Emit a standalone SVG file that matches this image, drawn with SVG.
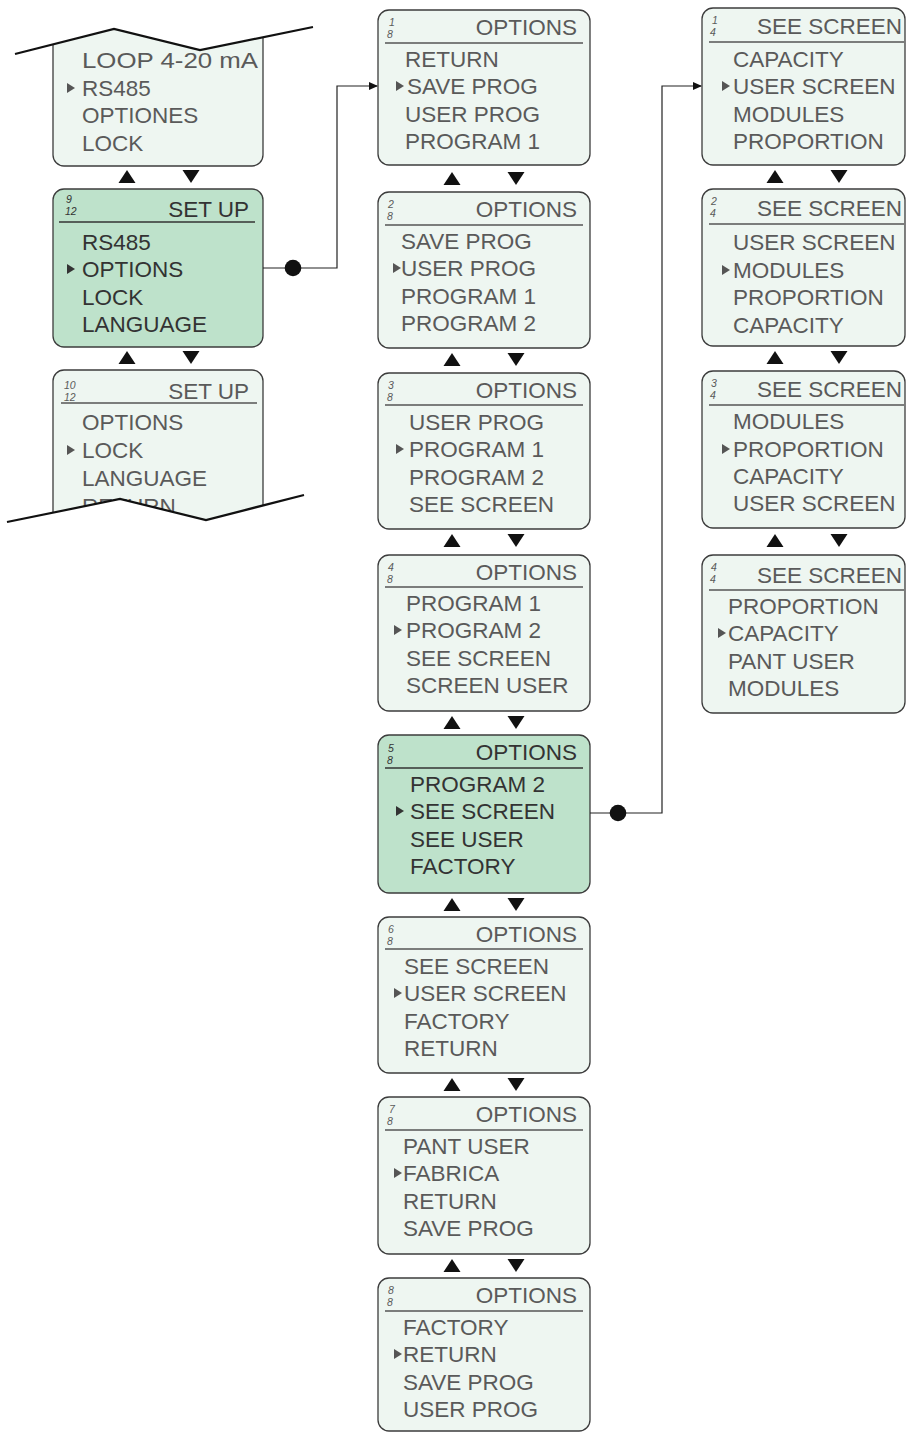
<svg xmlns="http://www.w3.org/2000/svg" xmlns:xlink="http://www.w3.org/1999/xlink" width="906" height="1432" viewBox="0 0 906 1432">
  <style>
    .scr { fill: #eef6f1; stroke: #3c3c3c; stroke-width: 1.3; }
    .scr.on { fill: #bee2cb; }
    .rule { stroke: #555; stroke-width: 1.3; }
    .hot .rule { stroke: #333; }
    text { font-family: "Liberation Sans", Arial, sans-serif; font-size: 22.5px; letter-spacing: 0; fill: #5a5a5a; }
    .hot text { fill: #333; }
    .ttl { text-anchor: end; }
    .frac { font-family: "Liberation Sans", Arial, sans-serif; font-size: 10.5px; font-style: italic; letter-spacing: 0; }
    .ptr { fill: #555; }
    .hot .ptr { fill: #333; }
    .nav { fill: #111; }
    .wire { fill: none; stroke: #222; stroke-width: 1.2; }
    .dot { fill: #111; }
    .cut { fill: none; stroke: #111; stroke-width: 2.2; stroke-linejoin: miter; }
  </style>
  <defs>
    <path id="up" d="M-8.5,13 L0,0 L8.5,13 Z"/>
    <path id="dn" d="M-8.5,0 L8.5,0 L0,13 Z"/>
    <path id="pt" d="M0,-5 L8,0 L0,5 Z"/>
    <marker id="ah" markerWidth="9" markerHeight="8" refX="8" refY="4" orient="auto" markerUnits="userSpaceOnUse">
      <path d="M0,0 L9,4 L0,8 Z" fill="#111"/>
    </marker>
  </defs>

  <!-- SET UP column -->
  <g id="setup-8">
    <rect class="scr" x="53" y="10" width="210" height="156" rx="11"/>
    <text x="82" y="68" textLength="176" lengthAdjust="spacingAndGlyphs">LOOP 4-20 mA</text>
    <use href="#pt" class="ptr" x="67" y="88"/>
    <text x="82" y="96">RS485</text>
    <text x="82" y="123">OPTIONES</text>
    <text x="82" y="151">LOCK</text>
  </g>
  <g id="setup-nav-1">
    <use href="#up" class="nav" x="127" y="170"/>
    <use href="#dn" class="nav" x="191" y="170"/>
  </g>
  <g id="setup-9" class="hot">
    <rect class="scr on" x="53" y="189" width="210" height="158" rx="11"/>
    <text class="frac" x="66" y="203">9</text>
    <text class="frac" x="65" y="215">12</text>
    <text class="ttl" x="249" y="217">SET UP</text>
    <line class="rule" x1="59" y1="222" x2="255" y2="222"/>
    <text x="82" y="250">RS485</text>
    <use href="#pt" class="ptr" x="67" y="269"/>
    <text x="82" y="277">OPTIONS</text>
    <text x="82" y="305">LOCK</text>
    <text x="82" y="332">LANGUAGE</text>
  </g>
  <g id="setup-nav-2">
    <use href="#up" class="nav" x="127" y="351"/>
    <use href="#dn" class="nav" x="191" y="351"/>
  </g>
  <g id="setup-10">
    <rect class="scr" x="53" y="370" width="210" height="170" rx="11"/>
    <text class="frac" x="64" y="389">10</text>
    <text class="frac" x="64" y="401">12</text>
    <text class="ttl" x="249" y="399">SET UP</text>
    <line class="rule" x1="61" y1="403" x2="257" y2="403"/>
    <text x="82" y="430">OPTIONS</text>
    <use href="#pt" class="ptr" x="67" y="450"/>
    <text x="82" y="458">LOCK</text>
    <text x="82" y="486">LANGUAGE</text>
    <text x="82" y="514">RETURN</text>
  </g>
  <!-- torn edges of the scrolled list -->
  <g id="tear">
    <polygon fill="#fff" points="0,0 340,0 340,22 313,27 200,50 114,29 15,54 0,58"/>
    <polyline class="cut" points="15,54 114,29 200,50 313,27"/>
    <polygon fill="#fff" points="0,522 7,522 120,499 206,520 304,495 340,495 340,560 0,560"/>
    <polyline class="cut" points="7,522 120,499 206,520 304,495"/>
  </g>

  <!-- OPTIONS column -->
  <g id="opt-1">
    <rect class="scr" x="378" y="10" width="212" height="155" rx="11"/>
    <text class="frac" x="389" y="26">1</text>
    <text class="frac" x="387" y="38">8</text>
    <text class="ttl" x="577" y="35">OPTIONS</text>
    <line class="rule" x1="385" y1="43" x2="583" y2="43"/>
    <text x="405" y="67">RETURN</text>
    <use href="#pt" class="ptr" x="396" y="86"/>
    <text x="407" y="94">SAVE PROG</text>
    <text x="405" y="122">USER PROG</text>
    <text x="405" y="149">PROGRAM 1</text>
  </g>
  <g id="opt-nav-1">
    <use href="#up" class="nav" x="452" y="172"/>
    <use href="#dn" class="nav" x="516" y="172"/>
  </g>
  <g id="opt-2">
    <rect class="scr" x="378" y="192" width="212" height="156" rx="11"/>
    <text class="frac" x="388" y="208">2</text>
    <text class="frac" x="387" y="220">8</text>
    <text class="ttl" x="577" y="217">OPTIONS</text>
    <line class="rule" x1="385" y1="225" x2="583" y2="225"/>
    <text x="401" y="249">SAVE PROG</text>
    <use href="#pt" class="ptr" x="393" y="268"/>
    <text x="401" y="276">USER PROG</text>
    <text x="401" y="304">PROGRAM 1</text>
    <text x="401" y="331">PROGRAM 2</text>
  </g>
  <g id="opt-nav-2">
    <use href="#up" class="nav" x="452" y="353"/>
    <use href="#dn" class="nav" x="516" y="353"/>
  </g>
  <g id="opt-3">
    <rect class="scr" x="378" y="373" width="212" height="156" rx="11"/>
    <text class="frac" x="388" y="389">3</text>
    <text class="frac" x="387" y="401">8</text>
    <text class="ttl" x="577" y="398">OPTIONS</text>
    <line class="rule" x1="385" y1="405" x2="583" y2="405"/>
    <text x="409" y="430">USER PROG</text>
    <use href="#pt" class="ptr" x="396" y="449"/>
    <text x="409" y="457">PROGRAM 1</text>
    <text x="409" y="485">PROGRAM 2</text>
    <text x="409" y="512">SEE SCREEN</text>
  </g>
  <g id="opt-nav-3">
    <use href="#up" class="nav" x="452" y="534"/>
    <use href="#dn" class="nav" x="516" y="534"/>
  </g>
  <g id="opt-4">
    <rect class="scr" x="378" y="555" width="212" height="156" rx="11"/>
    <text class="frac" x="388" y="571">4</text>
    <text class="frac" x="387" y="583">8</text>
    <text class="ttl" x="577" y="580">OPTIONS</text>
    <line class="rule" x1="385" y1="587" x2="583" y2="587"/>
    <text x="406" y="611">PROGRAM 1</text>
    <use href="#pt" class="ptr" x="394" y="630"/>
    <text x="406" y="638">PROGRAM 2</text>
    <text x="406" y="666">SEE SCREEN</text>
    <text x="406" y="693">SCREEN USER</text>
  </g>
  <g id="opt-nav-4">
    <use href="#up" class="nav" x="452" y="716"/>
    <use href="#dn" class="nav" x="516" y="716"/>
  </g>
  <g id="opt-5" class="hot">
    <rect class="scr on" x="378" y="735" width="212" height="158" rx="11"/>
    <text class="frac" x="388" y="752">5</text>
    <text class="frac" x="387" y="764">8</text>
    <text class="ttl" x="577" y="760">OPTIONS</text>
    <line class="rule" x1="385" y1="768" x2="583" y2="768"/>
    <text x="410" y="792">PROGRAM 2</text>
    <use href="#pt" class="ptr" x="396" y="811"/>
    <text x="410" y="819">SEE SCREEN</text>
    <text x="410" y="847">SEE USER</text>
    <text x="410" y="874">FACTORY</text>
  </g>
  <g id="opt-nav-5">
    <use href="#up" class="nav" x="452" y="898"/>
    <use href="#dn" class="nav" x="516" y="898"/>
  </g>
  <g id="opt-6">
    <rect class="scr" x="378" y="917" width="212" height="156" rx="11"/>
    <text class="frac" x="388" y="933">6</text>
    <text class="frac" x="387" y="945">8</text>
    <text class="ttl" x="577" y="942">OPTIONS</text>
    <line class="rule" x1="385" y1="949" x2="583" y2="949"/>
    <text x="404" y="974">SEE SCREEN</text>
    <use href="#pt" class="ptr" x="394" y="993"/>
    <text x="404" y="1001">USER SCREEN</text>
    <text x="404" y="1029">FACTORY</text>
    <text x="404" y="1056">RETURN</text>
  </g>
  <g id="opt-nav-6">
    <use href="#up" class="nav" x="452" y="1078"/>
    <use href="#dn" class="nav" x="516" y="1078"/>
  </g>
  <g id="opt-7">
    <rect class="scr" x="378" y="1097" width="212" height="157" rx="11"/>
    <text class="frac" x="389" y="1113">7</text>
    <text class="frac" x="387" y="1125">8</text>
    <text class="ttl" x="577" y="1122">OPTIONS</text>
    <line class="rule" x1="385" y1="1130" x2="583" y2="1130"/>
    <text x="403" y="1154">PANT USER</text>
    <use href="#pt" class="ptr" x="394" y="1173"/>
    <text x="403" y="1181">FABRICA</text>
    <text x="403" y="1209">RETURN</text>
    <text x="403" y="1236">SAVE PROG</text>
  </g>
  <g id="opt-nav-7">
    <use href="#up" class="nav" x="452" y="1259"/>
    <use href="#dn" class="nav" x="516" y="1259"/>
  </g>
  <g id="opt-8">
    <rect class="scr" x="378" y="1278" width="212" height="153" rx="11"/>
    <text class="frac" x="388" y="1294">8</text>
    <text class="frac" x="387" y="1306">8</text>
    <text class="ttl" x="577" y="1303">OPTIONS</text>
    <line class="rule" x1="385" y1="1311" x2="583" y2="1311"/>
    <text x="403" y="1335">FACTORY</text>
    <use href="#pt" class="ptr" x="394" y="1354"/>
    <text x="403" y="1362">RETURN</text>
    <text x="403" y="1390">SAVE PROG</text>
    <text x="403" y="1417">USER PROG</text>
  </g>

  <!-- SEE SCREEN column -->
  <g id="see-1">
    <rect class="scr" x="702" y="8" width="203" height="157" rx="11"/>
    <text class="frac" x="712" y="24">1</text>
    <text class="frac" x="710" y="36">4</text>
    <text class="ttl" x="902" y="34">SEE SCREEN</text>
    <line class="rule" x1="709" y1="42" x2="904" y2="42"/>
    <text x="733" y="67">CAPACITY</text>
    <use href="#pt" class="ptr" x="722" y="86"/>
    <text x="733" y="94">USER SCREEN</text>
    <text x="733" y="122">MODULES</text>
    <text x="733" y="149">PROPORTION</text>
  </g>
  <g id="see-nav-1">
    <use href="#up" class="nav" x="775" y="170"/>
    <use href="#dn" class="nav" x="839" y="170"/>
  </g>
  <g id="see-2">
    <rect class="scr" x="702" y="189" width="203" height="157" rx="11"/>
    <text class="frac" x="711" y="205">2</text>
    <text class="frac" x="710" y="217">4</text>
    <text class="ttl" x="902" y="216">SEE SCREEN</text>
    <line class="rule" x1="709" y1="224" x2="904" y2="224"/>
    <text x="733" y="250">USER SCREEN</text>
    <use href="#pt" class="ptr" x="722" y="270"/>
    <text x="733" y="278">MODULES</text>
    <text x="733" y="305">PROPORTION</text>
    <text x="733" y="333">CAPACITY</text>
  </g>
  <g id="see-nav-2">
    <use href="#up" class="nav" x="775" y="351"/>
    <use href="#dn" class="nav" x="839" y="351"/>
  </g>
  <g id="see-3">
    <rect class="scr" x="702" y="371" width="203" height="157" rx="11"/>
    <text class="frac" x="711" y="387">3</text>
    <text class="frac" x="710" y="399">4</text>
    <text class="ttl" x="902" y="397">SEE SCREEN</text>
    <line class="rule" x1="709" y1="405" x2="904" y2="405"/>
    <text x="733" y="429">MODULES</text>
    <use href="#pt" class="ptr" x="722" y="449"/>
    <text x="733" y="457">PROPORTION</text>
    <text x="733" y="484">CAPACITY</text>
    <text x="733" y="511">USER SCREEN</text>
  </g>
  <g id="see-nav-3">
    <use href="#up" class="nav" x="775" y="534"/>
    <use href="#dn" class="nav" x="839" y="534"/>
  </g>
  <g id="see-4">
    <rect class="scr" x="702" y="555" width="203" height="158" rx="11"/>
    <text class="frac" x="711" y="571">4</text>
    <text class="frac" x="710" y="583">4</text>
    <text class="ttl" x="902" y="583">SEE SCREEN</text>
    <line class="rule" x1="709" y1="590" x2="904" y2="590"/>
    <text x="728" y="614">PROPORTION</text>
    <use href="#pt" class="ptr" x="718" y="633"/>
    <text x="728" y="641">CAPACITY</text>
    <text x="728" y="669">PANT USER</text>
    <text x="728" y="696">MODULES</text>
  </g>

  <!-- links into sub-menus -->
  <g id="connectors">
    <polyline class="wire" points="263,268 337,268 337,86 377,86" marker-end="url(#ah)"/>
    <circle class="dot" cx="293" cy="268" r="8.3"/>
    <polyline class="wire" points="590,813 662,813 662,86 701,86" marker-end="url(#ah)"/>
    <circle class="dot" cx="618" cy="813" r="8.3"/>
  </g>
</svg>
